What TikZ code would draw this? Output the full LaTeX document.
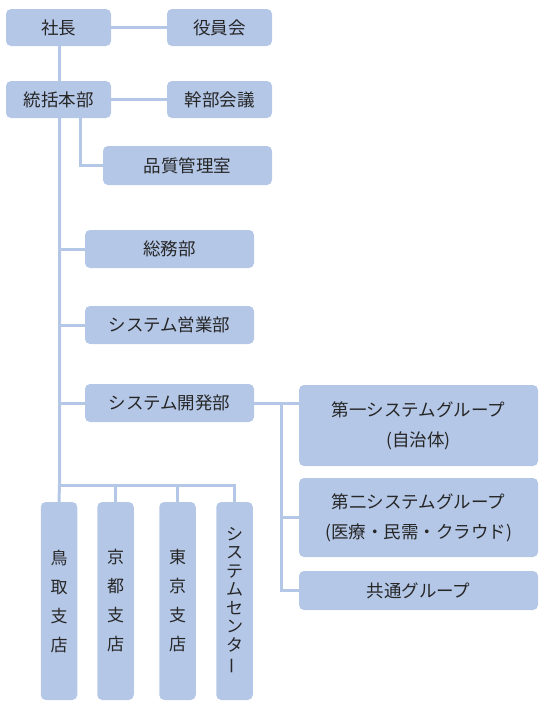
\documentclass[tikz,border=0pt]{standalone}
\usepackage{fontspec}
\setmainfont{Noto Sans CJK JP}
\usepackage{graphicx}
\usepackage{tikz}
\usetikzlibrary{positioning,calc}
\usepackage{xcolor}
\definecolor{orgblue}{RGB}{180,199,231}
\definecolor{orgtext}{RGB}{38,38,38}
\tikzstyle{unit} = [rectangle, rounded corners=5pt, fill=orgblue, text=orgtext, align=center, inner sep=0pt, font=\fontsize{17.5}{30}\selectfont]
\tikzstyle{wide} = [unit, minimum width=105pt, minimum height=37pt]
\tikzstyle{dept} = [unit, minimum width=169pt, minimum height=38pt]
\tikzstyle{group} = [unit, minimum width=239pt]
\tikzstyle{branch} = [unit, minimum width=36.5pt, minimum height=198pt, font=\fontsize{17}{29}\selectfont]
\tikzstyle{link} = [line width=3pt, color=orgblue]

\begin{document}
\begin{tikzpicture}[x=1pt,y=-1pt]
\useasboundingbox (0,0) rectangle (555,707);
% Top
\node[wide] (shacho) at (58.5,27.5) {社長};
\node[wide] (yakuin) at (219.5,27.5) {役員会};
\node[wide] (tokatsu) at (58.5,99.5) {統括本部};
\node[wide] (kanbu) at (219.5,99.5) {幹部会議};
\node[dept, minimum height=39pt] (hinshitsu) at (187.5,165.5) {品質管理室};
% Departments
\node[dept] (somu) at (169.5,249) {総務部};
\node[dept] (eigyo) at (169.5,325) {システム営業部};
\node[dept] (kaihatsu) at (169.5,403) {システム開発部};
% Groups
\node[group, minimum height=81pt] (grp1) at (418.5,425.5) {第一システムグループ\\(自治体)};
\node[group, minimum height=79pt] (grp2) at (418.5,517.5) {第二システムグループ\\(医療・民需・クラウド)};
\node[group, minimum height=39pt] (kyotsu) at (418.5,590.5) {共通グループ};
% Branches
\node[branch] (tottori) at (59,601) {鳥\\取\\支\\店};
\node[branch] (kyoto) at (115.5,601) {京\\都\\支\\店};
\node[branch] (tokyo) at (177.5,601) {東\\京\\支\\店};
\node[branch, font=\fontsize{17}{18.5}\selectfont] (center) at (234.5,601) {シ\\ス\\テ\\ム\\セ\\ン\\タ\\\rotatebox[origin=c]{90}{ー}};

\coordinate (bus) at (59.5,485);
\coordinate (gbus) at (281,403);

\draw[link] (shacho.east) -- (yakuin.west);
\draw[link] (tokatsu.east) -- (kanbu.west);
\draw[link] ([xshift=1pt]shacho.south) -- ([xshift=1pt]tokatsu.north);
\draw[link] ([xshift=1pt]tokatsu.south) -- (bus) -- (tottori.north);
\draw[link] ([xshift=21.5pt]tokatsu.south) |- (hinshitsu.west);
\foreach \d in {somu,eigyo,kaihatsu}
  \draw[link] (bus |- \d.west) -- (\d.west);
\foreach \b in {kyoto,tokyo,center}
  \draw[link] (bus) -| (\b.north);
\draw[link] (kaihatsu.east) -- (kaihatsu.east -| grp1.west);
\draw[link] (gbus) |- (grp2.west);
\draw[link] (gbus) |- (kyotsu.west);
\end{tikzpicture}
\end{document}
